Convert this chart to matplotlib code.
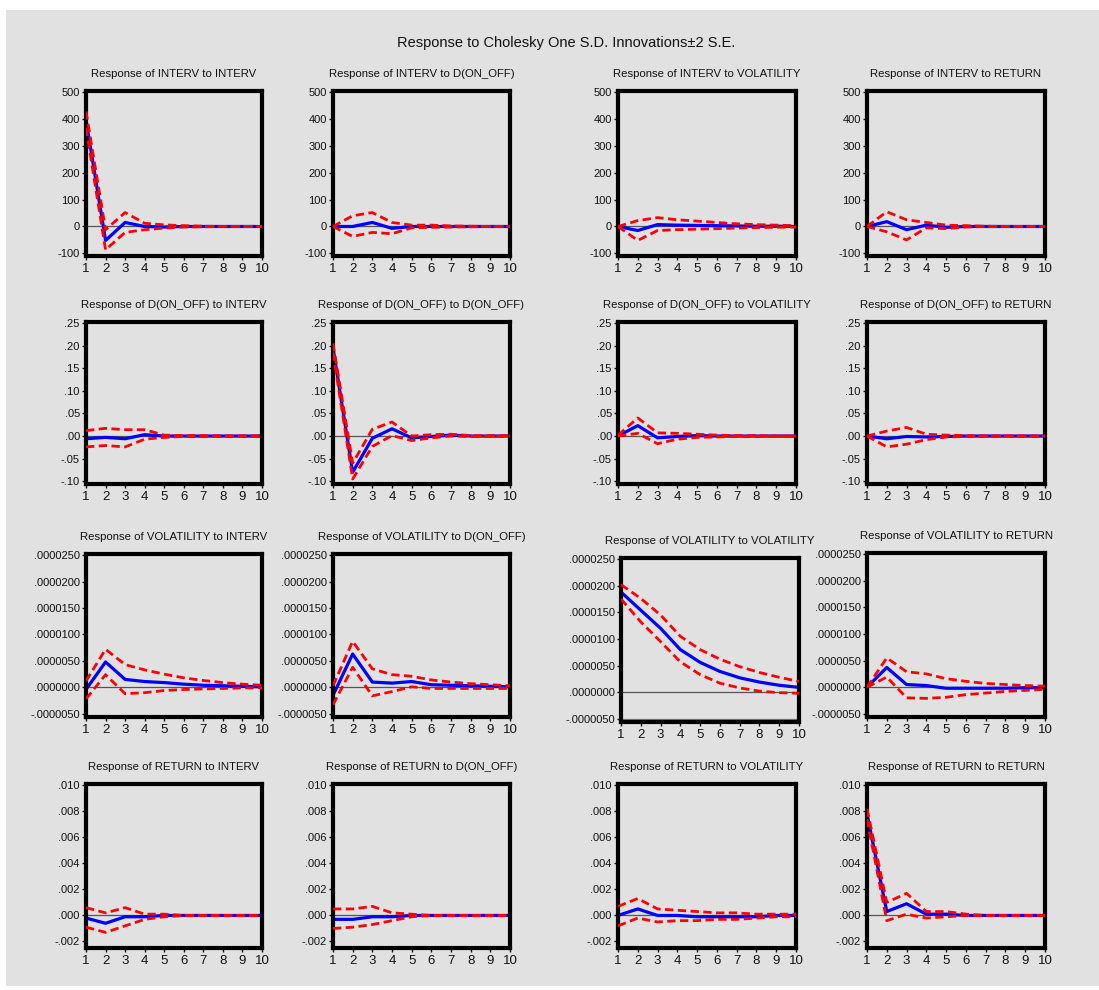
import matplotlib
matplotlib.use("Agg")
import matplotlib.pyplot as plt
from matplotlib.patches import Rectangle

plt.rcParams['font.family'] = ['Liberation Sans Narrow', 'Liberation Sans', 'DejaVu Sans']

steps = list(range(1, 11))
names = ["INTERV", "D(ON_OFF)", "VOLATILITY", "RETURN"]

# response, upper band, lower band for each (response var, shock var)
# row 1: INTERV
interv_interv = [398, -52, 15, 0, -2, 0, 0, 0, 0, 0]
interv_interv_up = [429, -12, 52, 12, 6, 3, 1, 0, 0, 0]
interv_interv_lo = [368, -87, -22, -12, -6, -2, -1, 0, 0, 0]
interv_onoff = [0, 0, 15, -7, 0, 0, 0, 0, 0, 0]
interv_onoff_up = [0, 40, 52, 15, 5, 5, 2, 1, 0, 0]
interv_onoff_lo = [0, -37, -22, -27, -5, -3, -2, -1, 0, 0]
interv_vol = [0, -15, 7, 5, 4, 3, 2, 1, 1, 0]
interv_vol_up = [0, 22, 33, 25, 20, 15, 10, 7, 5, 3]
interv_vol_lo = [0, -52, -15, -12, -10, -8, -6, -4, -3, -2]
interv_ret = [0, 18, -12, 5, -3, 0, 0, 0, 0, 0]
interv_ret_up = [0, 55, 25, 15, 5, 3, 1, 0, 0, 0]
interv_ret_lo = [0, -20, -50, -5, -8, -2, 0, 0, 0, 0]

# row 2: D(ON_OFF)
onoff_interv = [-0.006, -0.003, -0.006, 0.003, 0.0, 0.0, 0.0, 0.0, 0.0, 0.0]
onoff_interv_up = [0.012, 0.017, 0.014, 0.014, 0.002, 0.001, 0.001, 0.0, 0.0, 0.0]
onoff_interv_lo = [-0.024, -0.021, -0.024, -0.007, -0.003, -0.001, -0.001, 0.0, 0.0, 0.0]
onoff_onoff = [0.195, -0.080, -0.005, 0.016, -0.004, -0.001, 0.002, 0.0, 0.0, 0.0]
onoff_onoff_up = [0.205, -0.060, 0.015, 0.031, 0.0, 0.003, 0.004, 0.001, 0.001, 0.001]
onoff_onoff_lo = [0.185, -0.095, -0.023, 0.001, -0.010, -0.004, 0.0, -0.001, -0.001, 0.0]
onoff_vol = [0.0, 0.023, -0.004, -0.001, 0.001, 0.0, 0.0, 0.0, 0.0, 0.0]
onoff_vol_up = [0.002, 0.040, 0.007, 0.006, 0.004, 0.002, 0.001, 0.001, 0.0, 0.0]
onoff_vol_lo = [0.0, 0.006, -0.017, -0.007, -0.003, -0.002, -0.001, -0.001, 0.0, 0.0]
onoff_ret = [0.0, -0.006, -0.001, -0.002, -0.001, 0.0, 0.0, 0.0, 0.0, 0.0]
onoff_ret_up = [0.0, 0.011, 0.019, 0.004, 0.002, 0.001, 0.0, 0.0, 0.0, 0.0]
onoff_ret_lo = [0.0, -0.024, -0.018, -0.008, -0.002, -0.001, 0.0, 0.0, 0.0, 0.0]

# row 3: VOLATILITY (units of 1e-6)
vol_interv = [-0.4, 4.8, 1.5, 1.1, 0.9, 0.6, 0.4, 0.3, 0.2, 0.1]
vol_interv_up = [1.2, 7.2, 4.3, 3.3, 2.5, 1.8, 1.3, 0.9, 0.6, 0.4]
vol_interv_lo = [-2.2, 2.4, -1.2, -1.0, -0.6, -0.4, -0.3, -0.2, -0.1, -0.1]
vol_onoff = [-1.5, 6.3, 1.0, 0.8, 1.1, 0.5, 0.4, 0.3, 0.2, 0.1]
vol_onoff_up = [0.3, 8.7, 3.5, 2.4, 2.1, 1.4, 1.0, 0.7, 0.5, 0.3]
vol_onoff_lo = [-3.3, 3.8, -1.6, -0.8, 0.1, -0.2, -0.2, -0.2, -0.2, -0.2]
vol_vol = [18.8, 15.4, 12.0, 8.0, 5.6, 3.9, 2.7, 1.9, 1.3, 0.9]
vol_vol_up = [20.2, 17.6, 14.5, 10.5, 8.0, 6.2, 4.8, 3.7, 2.8, 2.0]
vol_vol_lo = [17.5, 13.2, 9.5, 5.7, 3.3, 1.7, 0.8, 0.2, -0.1, -0.2]
vol_ret = [0.0, 3.7, 0.5, 0.3, -0.2, -0.2, -0.2, -0.2, -0.1, -0.1]
vol_ret_up = [0.0, 5.5, 2.9, 2.5, 1.6, 1.1, 0.7, 0.5, 0.3, 0.2]
vol_ret_lo = [0.0, 1.9, -2.0, -2.1, -1.9, -1.4, -1.1, -0.8, -0.6, -0.4]

# row 4: RETURN
ret_interv = [-0.0002, -0.0006, -0.0001, -0.0001, 0.0, 0.0, 0.0, 0.0, 0.0, 0.0]
ret_interv_up = [0.0006, 0.0002, 0.0006, 0.0001, 0.0001, 0.0, 0.0, 0.0, 0.0, 0.0]
ret_interv_lo = [-0.0009, -0.0013, -0.0008, -0.0003, -0.0001, 0.0, 0.0, 0.0, 0.0, 0.0]
ret_onoff = [-0.0003, -0.0003, -0.0001, -0.0001, 0.0, 0.0, 0.0, 0.0, 0.0, 0.0]
ret_onoff_up = [0.0005, 0.0005, 0.0007, 0.0002, 0.0001, 0.0, 0.0, 0.0, 0.0, 0.0]
ret_onoff_lo = [-0.0010, -0.0009, -0.0007, -0.0004, -0.0001, 0.0, 0.0, 0.0, 0.0, 0.0]
ret_vol = [0.0, 0.0005, 0.0, 0.0, -0.0001, -0.0001, -0.0001, -0.0001, 0.0, 0.0]
ret_vol_up = [0.0007, 0.0013, 0.0005, 0.0004, 0.0003, 0.0002, 0.0002, 0.0001, 0.0001, 0.0001]
ret_vol_lo = [-0.0008, -0.0002, -0.0005, -0.0004, -0.0004, -0.0003, -0.0003, -0.0002, -0.0001, -0.0001]
ret_ret = [0.0078, 0.0003, 0.0009, 0.0001, 0.0001, 0.0, 0.0, 0.0, 0.0, 0.0]
ret_ret_up = [0.0082, 0.0010, 0.0017, 0.0003, 0.0003, 0.0001, 0.0, 0.0, 0.0, 0.0]
ret_ret_lo = [0.0074, -0.0004, 0.0001, -0.0002, -0.0001, 0.0, 0.0, 0.0, 0.0, 0.0]

panels = [
    [(interv_interv, interv_interv_up, interv_interv_lo),
     (interv_onoff, interv_onoff_up, interv_onoff_lo),
     (interv_vol, interv_vol_up, interv_vol_lo),
     (interv_ret, interv_ret_up, interv_ret_lo)],
    [(onoff_interv, onoff_interv_up, onoff_interv_lo),
     (onoff_onoff, onoff_onoff_up, onoff_onoff_lo),
     (onoff_vol, onoff_vol_up, onoff_vol_lo),
     (onoff_ret, onoff_ret_up, onoff_ret_lo)],
    [(vol_interv, vol_interv_up, vol_interv_lo),
     (vol_onoff, vol_onoff_up, vol_onoff_lo),
     (vol_vol, vol_vol_up, vol_vol_lo),
     (vol_ret, vol_ret_up, vol_ret_lo)],
    [(ret_interv, ret_interv_up, ret_interv_lo),
     (ret_onoff, ret_onoff_up, ret_onoff_lo),
     (ret_vol, ret_vol_up, ret_vol_lo),
     (ret_ret, ret_ret_up, ret_ret_lo)],
]
row_scale = [1, 1, 1e-6, 1]

row_ticks = [
    [-100, 0, 100, 200, 300, 400, 500],
    [-0.10, -0.05, 0.0, 0.05, 0.10, 0.15, 0.20, 0.25],
    [-0.000005, 0.0, 0.000005, 0.00001, 0.000015, 0.00002, 0.000025],
    [-0.002, 0.0, 0.002, 0.004, 0.006, 0.008, 0.010],
]
row_fmt = ["{:.0f}", "{:.2f}", "{:.7f}", "{:.3f}"]
row_ylim = [(-110, 505), (-0.106, 0.252), (-0.0000056, 0.0000252), (-0.0025, 0.0101)]

W, H = 1099, 990
col_x = [(86, 262), (333, 510), (618, 796), (867, 1045)]
row_y = [(91, 256), (322, 484), (554, 717), (784, 948)]
# the VOLATILITY-to-VOLATILITY panel sits a bit off the grid
special = {(2, 2): ((621, 799), (558, 722)), (2, 3): ((867, 1045), (553, 717))}

bg = "#e1e1e1"
fig = plt.figure(figsize=(W / 100, H / 100), dpi=100)
fig.patch.set_facecolor("white")
fig.add_artist(Rectangle((6 / W, 0.004), 1 - 6 / W, 1 - 10 / H - 0.004,
                         transform=fig.transFigure, facecolor=bg, edgecolor="none", zorder=-10))

fig.text(566 / W, 1 - 43 / H, "Response to Cholesky One S.D. Innovations\u00b12 S.E.",
         ha="center", va="center", fontsize=10.5, color="#111111")


def tick_label(fmt, v):
    s = fmt.format(v)
    if s.startswith("-0."):
        s = "-" + s[2:]
    elif s.startswith("0."):
        s = s[1:]
    if fmt == "{:.0f}" and s == "-0":
        s = "0"
    return s


for r in range(4):
    for c in range(4):
        (x0, x1), (y0, y1) = special.get((r, c), (col_x[c], row_y[r]))
        ax = fig.add_axes([x0 / W, 1 - y1 / H, (x1 - x0) / W, (y1 - y0) / H])
        ax.set_facecolor(bg)
        resp, up, lo = panels[r][c]
        k = row_scale[r]
        ax.axhline(0, color="#555555", lw=0.9, zorder=1)
        if r == 2 and c == 2:
            ax.axhline(-0.000005, color="#777777", lw=0.9, zorder=1)
        ax.plot(steps, [v * k for v in up], color="#ff0000", lw=2, ls=(0, (3, 1.6)), zorder=3)
        ax.plot(steps, [v * k for v in lo], color="#ff0000", lw=2, ls=(0, (3, 1.6)), zorder=3)
        ax.plot(steps, [v * k for v in resp], color="#0000ff", lw=2.3, zorder=2)
        ax.set_xlim(1, 10)
        ax.set_ylim(*row_ylim[r])
        ax.set_xticks(steps)
        ax.set_yticks(row_ticks[r])
        ax.set_yticklabels([tick_label(row_fmt[r], v) for v in row_ticks[r]])
        ax.tick_params(axis="both", direction="out", length=3, width=1,
                       colors="#111111", pad=1.5)
        ax.tick_params(axis="y", labelsize=8)
        ax.tick_params(axis="x", labelsize=9.5, pad=2)
        for sp in ax.spines.values():
            sp.set_linewidth(3)
            sp.set_color("black")
        ax.set_title(f"Response of {names[r]} to {names[c]}", fontsize=8.2,
                     color="#111111", pad=10)

fig.savefig("out.png", dpi=100, facecolor=fig.get_facecolor())
